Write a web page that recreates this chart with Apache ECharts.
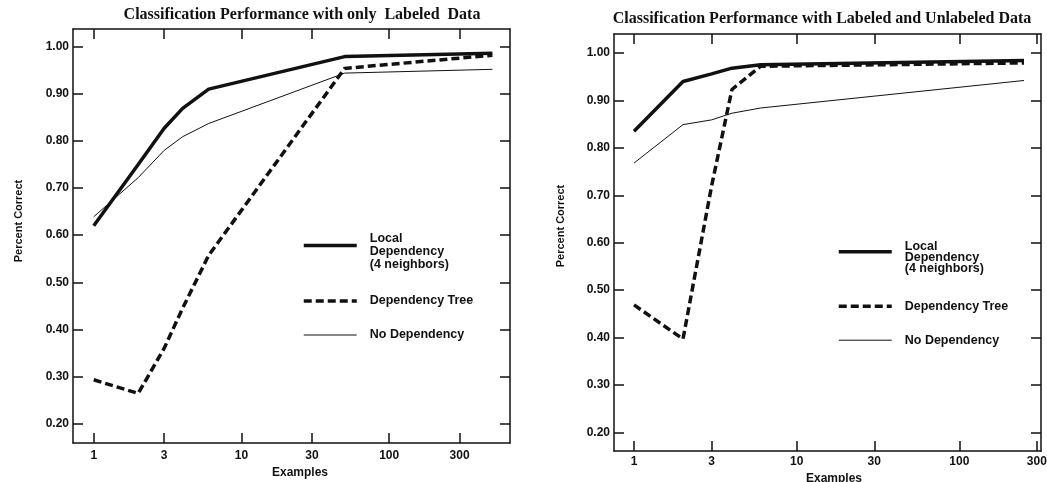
<!DOCTYPE html>
<html>
<head>
<meta charset="utf-8">
<script src="https://cdn.jsdelivr.net/npm/echarts@6/dist/echarts.min.js"></script>
<style>
  html, body { margin: 0; padding: 0; background: #fff; }
  #chart { width: 1047px; height: 482px; }
</style>
</head>
<body>
<div id="chart"></div>
<script>
    // x: number of examples (log scale), y: percent correct
    const examplesA = [1, 2, 3, 4, 6, 50, 500];
    const examplesB = [1, 2, 3, 4, 6, 250];
    const xTicks = [1, 3, 10, 30, 100, 300];
    const yTicks = [0.2, 0.3, 0.4, 0.5, 0.6, 0.7, 0.8, 0.9, 1.0];

    // left panel: only labeled data
    const localA = [0.62, 0.75, 0.827, 0.869, 0.91, 0.979, 0.986];
    const treeA = [0.293, 0.264, 0.36, 0.445, 0.557, 0.954, 0.982];
    const noneA = [0.639, 0.722, 0.78, 0.809, 0.837, 0.944, 0.952];

    // right panel: labeled and unlabeled data
    const localB = [0.835, 0.94, 0.956, 0.968, 0.975, 0.984];
    const treeB = [0.469, 0.397, 0.72, 0.923, 0.972, 0.979];
    const noneB = [0.768, 0.849, 0.859, 0.873, 0.884, 0.942];

    const seriesNames = ['Local Dependency (4 neighbors)', 'Dependency Tree', 'No Dependency'];
    // leading blank line keeps the line sample between "Local" and "Dependency"
    const legendText = {
        'Local Dependency (4 neighbors)': '\nLocal\nDependency\n(4 neighbors)',
        'Dependency Tree': 'Dependency Tree',
        'No Dependency': 'No Dependency'
    };
    const titleA = 'Classification Performance with only  Labeled  Data';
    const titleB = 'Classification Performance with Labeled and Unlabeled Data';

    const ink = '#111';
    const sans = 'Liberation Sans';
    const lineStyles = [
        {width: 3.5, type: 'solid'},
        {width: 3.5, type: [8, 4]},
        {width: 1, type: 'solid'}
    ];

    function pairs(xs, ys) {
        return xs.map((x, i) => [x, ys[i]]);
    }

    function xAxes(gi, min, max, labelMargin, nameGap, namePad) {
        const line = {onZero: false, lineStyle: {color: ink, width: 1.5}};
        const tick = {inside: true, length: 10, customValues: xTicks, lineStyle: {color: ink, width: 1.5}};
        return [{
            type: 'log', gridIndex: gi, position: 'bottom', min: min, max: max,
            name: 'Examples', nameLocation: 'middle', nameGap: nameGap,
            nameTextStyle: {fontFamily: sans, fontWeight: 'bold', fontSize: 12, color: ink, padding: [0, 0, 0, namePad]},
            axisLine: line,
            axisTick: tick,
            minorTick: {show: false},
            axisLabel: {
                customValues: xTicks, margin: labelMargin,
                fontFamily: sans, fontWeight: 'bold', fontSize: 12, color: ink,
                formatter: v => String(Math.round(v))
            },
            splitLine: {show: false}
        }, {
            type: 'log', gridIndex: gi, position: 'top', min: min, max: max,
            axisLine: line,
            axisTick: tick,
            axisLabel: {show: false},
            splitLine: {show: false}
        }];
    }

    function yAxes(gi, min, max, nameGap, namePad) {
        const line = {onZero: false, lineStyle: {color: ink, width: 1.5}};
        const tick = {inside: true, length: 10, customValues: yTicks, lineStyle: {color: ink, width: 1.5}};
        return [{
            type: 'value', gridIndex: gi, position: 'left', min: min, max: max,
            name: 'Percent Correct', nameLocation: 'middle', nameGap: nameGap,
            nameTextStyle: {fontFamily: sans, fontWeight: 'bold', fontSize: 11, color: ink, padding: [0, 0, 0, namePad]},
            axisLine: line,
            axisTick: tick,
            axisLabel: {
                customValues: yTicks, margin: 4,
                fontFamily: sans, fontWeight: 'bold', fontSize: 12, color: ink,
                formatter: v => v.toFixed(2)
            },
            splitLine: {show: false}
        }, {
            type: 'value', gridIndex: gi, position: 'right', min: min, max: max,
            axisLine: line,
            axisTick: tick,
            axisLabel: {show: false},
            splitLine: {show: false}
        }];
    }

    function lines(axisIndex, xs, groups) {
        return groups.map((ys, i) => ({
            type: 'line',
            name: seriesNames[i],
            xAxisIndex: axisIndex,
            yAxisIndex: axisIndex,
            symbol: 'none',
            color: ink,
            lineStyle: Object.assign({color: ink}, lineStyles[i]),
            emphasis: {disabled: true},
            data: pairs(xs, ys)
        }));
    }

    function legendAt(left, top, lineHeight, extra) {
        return {
            left: left, top: top, orient: 'vertical', padding: 0,
            itemGap: 21, itemWidth: 53, itemHeight: 14,
            selectedMode: false,
            lineStyle: {width: 'inherit'},
            itemStyle: {opacity: 0, borderWidth: 0},
            textStyle: {fontFamily: sans, fontWeight: 'bold', fontSize: 12.5, lineHeight: lineHeight, color: ink, padding: [0, 0, 0, 8]},
            formatter: n => legendText[n],
            data: [
                {name: seriesNames[0], textStyle: {padding: [0, 0, extra, 8]}},
                {name: seriesNames[1]},
                {name: seriesNames[2]}
            ]
        };
    }

    function titleAt(text, left, top) {
        return {
            text: text, left: left, top: top, textAlign: 'center', padding: 0,
            textStyle: {fontFamily: 'Liberation Serif', fontWeight: 'bold', fontSize: 16, color: ink}
        };
    }

    const chart = echarts.init(document.getElementById('chart'), null, {renderer: 'canvas'});

    chart.setOption({
        backgroundColor: '#fff',
        animation: false,
        title: [titleAt(titleA, 302, 7), titleAt(titleB, 822, 11)],
        legend: [legendAt(302, 217.5, 13, 4), legendAt(837, 224.7, 11, 10)],
        grid: [
            {left: 73, top: 29, width: 437, height: 414, outerBoundsMode: 'none'},
            {left: 614, top: 34, width: 427, height: 417, outerBoundsMode: 'none'}
        ],
        xAxis: [].concat(xAxes(0, 0.724, 658, 7, 20, 17), xAxes(1, 0.753, 318, 5, 20, 13)),
        yAxis: [].concat(yAxes(0, 0.1588, 1.0376, 49, 30), yAxes(1, 0.161, 1.040, 48, 33)),
        series: [].concat(
            lines(0, examplesA, [localA, treeA, noneA]),
            lines(2, examplesB, [localB, treeB, noneB])
        )
    });
</script>
</body>
</html>
